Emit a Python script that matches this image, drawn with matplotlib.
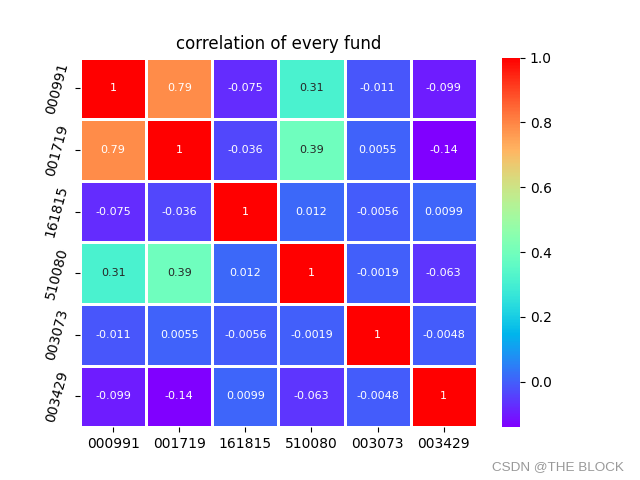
import numpy as np
import pandas as pd
import seaborn as sns
from matplotlib import pyplot as plt

# 基金代码
funds = ["000991", "001719", "161815", "510080", "003073", "003429"]

# 相关系数矩阵（按行）
row_000991 = [1, 0.79, -0.075, 0.31, -0.011, -0.099]
row_001719 = [0.79, 1, -0.036, 0.39, 0.0055, -0.14]
row_161815 = [-0.075, -0.036, 1, 0.012, -0.0056, 0.0099]
row_510080 = [0.31, 0.39, 0.012, 1, -0.0019, -0.063]
row_003073 = [-0.011, 0.0055, -0.0056, -0.0019, 1, -0.0048]
row_003429 = [-0.099, -0.14, 0.0099, -0.063, -0.0048, 1]

corr = pd.DataFrame([row_000991, row_001719, row_161815,
                     row_510080, row_003073, row_003429],
                    index=funds, columns=funds)

fig = plt.figure(figsize=(6.4, 4.8), dpi=100)
ax = sns.heatmap(corr, annot=True, cmap="rainbow", linewidths=1, linecolor="white",
                 annot_kws={"fontsize": 8})
ax.set_title("correlation of every fund")
plt.yticks(rotation=75)
plt.xticks(rotation=0)

# 水印
fig.text(0.975, 0.021, "CSDN @THE BLOCK", ha="right", va="baseline",
         color="#999999", fontsize=9.7, family="Liberation Sans")

plt.savefig("out.png")
